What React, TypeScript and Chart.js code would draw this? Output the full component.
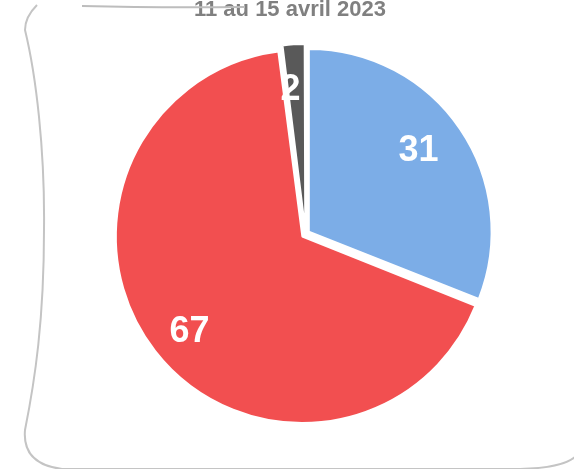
import React, { useEffect, useRef } from "react";
import { Chart, registerables } from "chart.js";

Chart.register(...registerables);

const categories = ["Catégorie A", "Catégorie B", "Catégorie C"];
const values = [31, 67, 2];
const sliceColors = ["#7CADE7", "#F24F50", "#595959"];
const titleText = "11 au 15 avril 2023";
const labelRadius = [0.77, 0.83, 0.8];

const framePlugin = {
  id: "frame",
  beforeDraw(chart: any) {
    const ctx = chart.ctx;
    ctx.save();
    ctx.strokeStyle = "#c4c4c4";
    ctx.lineWidth = 2;
    ctx.beginPath();
    ctx.moveTo(37, 5);
    ctx.quadraticCurveTo(25, 17, 25, 30);
    ctx.bezierCurveTo(36, 75, 45, 150, 44, 230);
    ctx.bezierCurveTo(44, 320, 35, 380, 25, 430);
    ctx.quadraticCurveTo(22, 464, 62, 469);
    ctx.lineTo(520, 469);
    ctx.quadraticCurveTo(562, 468, 575, 457);
    ctx.stroke();
    ctx.restore();
  },
  afterDraw(chart: any) {
    const ctx = chart.ctx;
    ctx.save();
    ctx.fillStyle = "#808080";
    ctx.font = 'bold 22px "Liberation Sans", Arial, sans-serif';
    ctx.textAlign = "center";
    ctx.textBaseline = "alphabetic";
    ctx.fillText(titleText, 290, 16);
    ctx.strokeStyle = "#bdbdbd";
    ctx.lineWidth = 2;
    ctx.beginPath();
    ctx.moveTo(82, 6);
    ctx.quadraticCurveTo(160, 8, 245, 7);
    ctx.stroke();
    const meta = chart.getDatasetMeta(0);
    const ds = chart.data.datasets[0];
    ctx.fillStyle = "#ffffff";
    ctx.font = 'bold 36px "Liberation Sans", Arial, sans-serif';
    ctx.textAlign = "center";
    ctx.textBaseline = "middle";
    meta.data.forEach((arc: any, i: number) => {
      const p = arc.getProps(["x", "y", "startAngle", "endAngle", "outerRadius"], true);
      const mid = (p.startAngle + p.endAngle) / 2 - 0.04;
      const r = 182.5 * labelRadius[i];
      const x = p.x + Math.cos(mid) * r;
      const y = p.y + Math.sin(mid) * r;
      ctx.fillText(String(ds.data[i]), x, y + 1);
    });
    ctx.restore();
  },
};

export default function App() {
  const ref = useRef<HTMLCanvasElement | null>(null);
  useEffect(() => {
    if (!ref.current) return;
    const chart = new Chart(ref.current, {
      type: "pie",
      data: {
        labels: categories,
        datasets: [
          {
            data: values,
            backgroundColor: sliceColors,
            borderColor: "#ffffff",
            borderWidth: 2,
            offset: 16,
          },
        ],
      },
      options: {
        responsive: false,
        animation: false,
        radius: 182.5,
        layout: { padding: { left: 105.5, right: 68.5, top: 34, bottom: 35 } },
        plugins: {
          legend: { display: false },
          tooltip: { enabled: false },
          title: { display: false },
        },
      },
      plugins: [framePlugin],
    });
    return () => chart.destroy();
  }, []);
  return (
    <div style={{ position: "absolute", left: 0, top: 0, width: 574, height: 469, background: "#fff" }}>
      <canvas ref={ref} width={574} height={469} style={{ display: "block" }} />
    </div>
  );
}
